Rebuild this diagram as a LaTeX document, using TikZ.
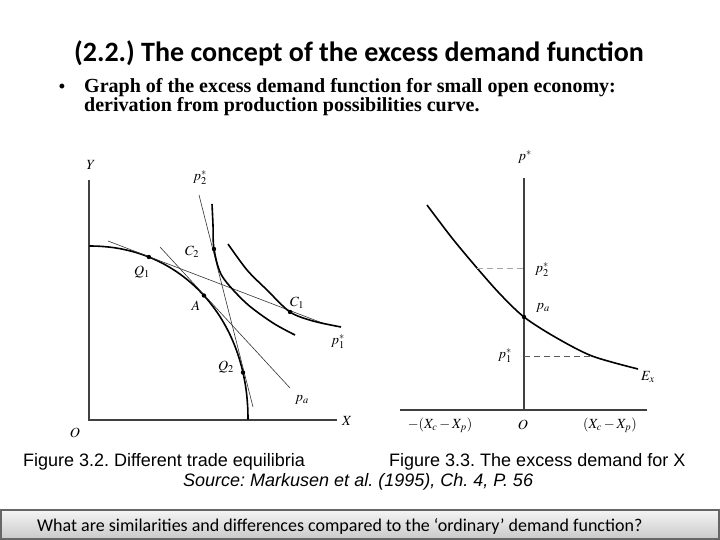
\documentclass[tikz,border=0pt]{standalone}
\usepackage{amsmath,amssymb}
\usepackage{mathptmx}
\usepackage{xcolor}
\usepackage[no-math]{fontspec}
\setmainfont{Liberation Serif}
\newfontfamily\calibrifont{Carlito}
\newfontfamily\arialfont{Liberation Sans}
\usepackage{tikz}
\usetikzlibrary{positioning}
\frenchspacing

\begin{document}
\begin{tikzpicture}[x=1pt, y=-1pt, every node/.style={font=\fontsize{14}{14}\selectfont, inner sep=1pt},
    axisline/.style={line width=1.1pt, black!75},
    thickcurve/.style={line width=1.6pt},
    tangent/.style={line width=0.6pt, black!80},
    guide/.style={dash pattern=on 6pt off 4pt, line width=1pt},
    bodytext/.style={anchor=base west, font=\bfseries\fontsize{20}{20}\selectfont},
    caption/.style={anchor=west, font=\arialfont\fontsize{18}{18}\selectfont}]
    % Canvas: 720x540, y runs downwards
    \useasboundingbox (0,0) rectangle (720,540);

    % Title and bullet
    \node[font=\calibrifont\bfseries\fontsize{28}{30}\selectfont] (title) at (359,53) {(2.2.) The concept of the excess demand function};
    \node[anchor=base, font=\bfseries\fontsize{18}{18}\selectfont] (bullet) at (62,93) {\textbullet};
    \node[bodytext] (line1) at (83,93) {Graph of the excess demand function for small open economy:};
    \node[bodytext] (line2) at (83,112) {derivation from production possibilities curve.};

    % Figure 3.2: axes
    \coordinate (O1) at (89,420);
    \coordinate (Ytop) at (89,180);
    \coordinate (Xend) at (337,420);
    \draw[axisline] (Ytop) -- (O1) -- (Xend);

    % Production possibilities curve (superellipse, n=2.1)
    \draw[thickcurve] plot[domain=0.1:89.9, samples=60, variable=\t]
        ({89+159*pow(cos(\t),0.952)}, {420-174*pow(sin(\t),0.952)});
    \coordinate (Q1) at ({89+159*pow(cos(69),0.952)}, {420-174*pow(sin(69),0.952)});
    \coordinate (A) at ({89+159*pow(cos(44.7),0.952)}, {420-174*pow(sin(44.7),0.952)});
    \coordinate (Q2) at ({89+159*pow(cos(14.8),0.952)}, {420-174*pow(sin(14.8),0.952)});

    % Price lines
    \coordinate (p1a) at (108,241);
    \coordinate (p1b) at (325,324);
    \coordinate (paa) at (160,247);
    \coordinate (pab) at (290,388);
    \coordinate (p2a) at (199,195);
    \coordinate (p2b) at (253,407);
    \draw[tangent] (p1a) -- (p1b);
    \draw[tangent] (paa) -- (pab);
    \draw[tangent] (p2a) -- (p2b);

    % Indifference curves
    \draw[thickcurve] plot[smooth] coordinates {(212,204) (213,225) (214,249) (222,276) (246,303) (273,323) (295,335)};
    \draw[thickcurve] plot[smooth] coordinates {(228,244) (247,270) (267,290) (290,312) (313,321) (341,327)};
    \coordinate (C2) at (214,249);
    \coordinate (C1) at (290,312);

    % Points
    \foreach \p in {Q1,A,Q2,C1,C2} {
        \fill (\p) circle (2.2);
    }

    % Labels
    \node (labY) at (91,165) {$Y$};
    \node (labX) at (347,421) {$X$};
    \node (labO1) at (75,433) {$O$};
    \node (labP2) at (200,178) {$p_2^*$};
    \node (labC2) at (192,252) {$C_2$};
    \node (labQ1) at (142,272) {$Q_1$};
    \node (labA) at (196,306) {$A$};
    \node (labC1) at (297,303) {$C_1$};
    \node (labP1) at (338,342) {$p_1^*$};
    \node (labQ2) at (226,367) {$Q_2$};
    \node (labPa) at (302,400) {$p_a$};

    % Figure 3.3: axes
    \coordinate (O2) at (524,410);
    \coordinate (Ptop) at (524,178);
    \coordinate (Xl) at (400,410);
    \coordinate (Xr) at (647,410);
    \draw[axisline] (Ptop) -- (O2);
    \draw[axisline] (Xl) -- (Xr);

    % Excess demand curve
    \draw[thickcurve] plot[smooth] coordinates {(427,205) (452,238) (477,268) (500,294) (524,317) (555,337) (592,356) (638,369)};
    \coordinate (Pa) at (524,317);
    \fill (Pa) circle (2.2);

    % Price guides
    \coordinate (d2a) at (477,268);
    \coordinate (d2b) at (524,268);
    \coordinate (d1a) at (524,356);
    \coordinate (d1b) at (591,356);
    \draw[guide, black!35] (d2a) -- (d2b);
    \draw[guide, black!65] (d1a) -- (d1b);

    % Labels
    \node (labPs) at (525,157) {$p^*$};
    \node (labP2r) at (542,270) {$p_2^*$};
    \node (labPar) at (543,308) {$p_a$};
    \node (labP1r) at (505,356) {$p_1^*$};
    \node (labEx) at (648,377) {$E_x$};
    \node (labO2) at (523,425) {$O$};
    \node (labNeg) at (440,425) {$-(X_c - X_p)$};
    \node (labPos) at (610,425) {$(X_c - X_p)$};

    % Captions
    \node[caption] (cap1) at (22,462) {Figure 3.2. Different trade equilibria};
    \node[caption] (cap2) at (388,462) {Figure 3.3. The excess demand for X};
    \node[caption, font=\arialfont\itshape\fontsize{18}{18}\selectfont] (source) at (182,482) {Source: Markusen et al. (1995), Ch. 4, P. 56};

    % Question box
    \draw[top color=gray!8, bottom color=gray!42, draw=black!60, line width=1.2pt] (1,510) rectangle (719,539);
    \node[anchor=base west, font=\calibrifont\fontsize{18}{18}\selectfont] (question) at (36,531) {What are similarities and differences compared to the ‘ordinary’ demand function?};
\end{tikzpicture}
\end{document}
